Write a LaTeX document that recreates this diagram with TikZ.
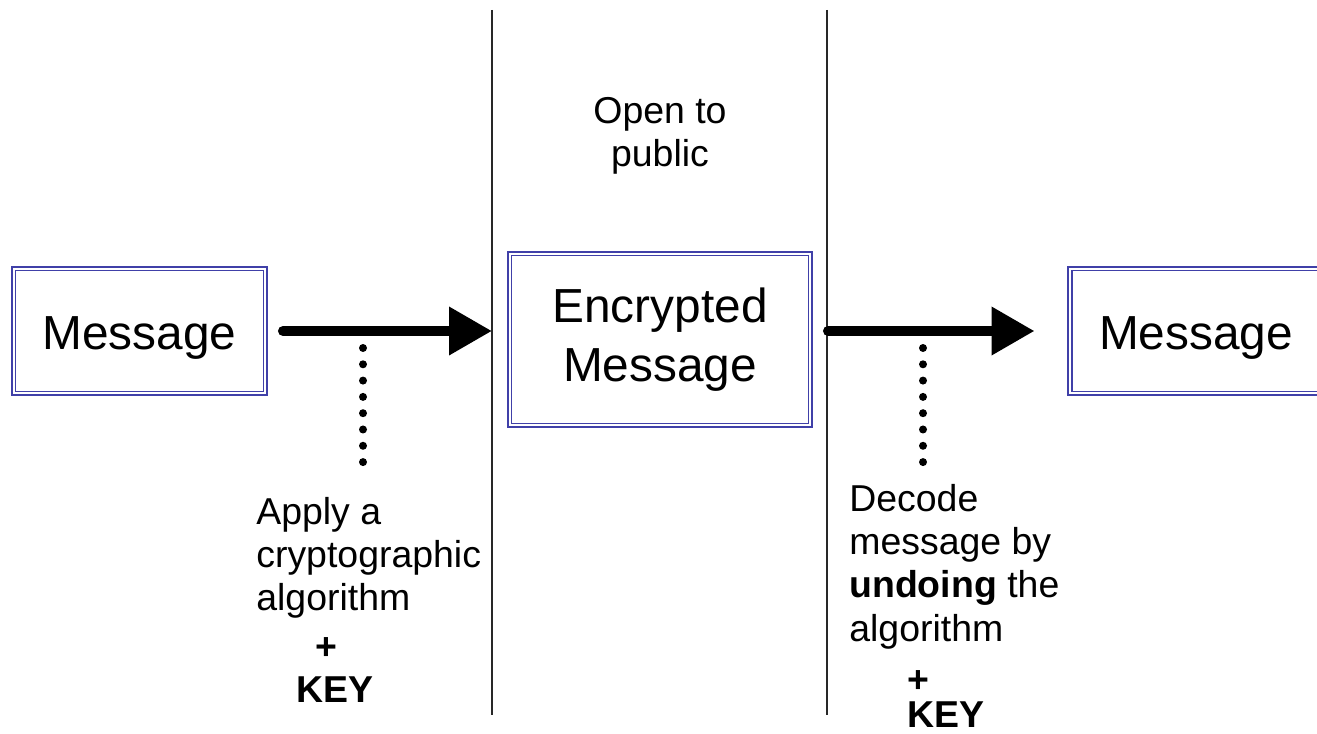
\documentclass[tikz,border=0pt]{standalone}
\usepackage{fontspec}
\setmainfont{Liberation Sans}
\usetikzlibrary{arrows.meta}

\definecolor{boxblue}{RGB}{64,64,168}
\definecolor{rulegray}{RGB}{40,40,40}

\tikzset{
	msgbox/.style={draw=boxblue, line width=0.032cm, double=white, double distance=0.04cm,
		inner sep=0pt, outer sep=0pt, align=center},
	bigtext/.style={font=\fontsize{27.2pt}{33.6pt}\selectfont},
	smalltext/.style={font=\fontsize{21.3pt}{24.6pt}\selectfont, inner sep=0pt},
	boldtext/.style={font=\bfseries\fontsize{21.3pt}{24.6pt}\selectfont, inner sep=0pt},
	flow/.style={line width=0.2cm, line cap=round, -{Triangle[length=0.86cm, width=0.92cm]}},
	dotline/.style={line width=0.16cm, line cap=round, dash pattern=on 0pt off 0.326cm},
	divider/.style={rulegray, line width=0.03cm}
}

\begin{document}
\begin{tikzpicture}[x=0.02cm, y=-0.02cm]
	\useasboundingbox (0,0) rectangle (1317,733);
	\clip (0,0) rectangle (1317,733);

	% the two dividers
	\coordinate (divA top) at (492,10);
	\coordinate (divA bot) at (492,715);
	\coordinate (divB top) at (827,10);
	\coordinate (divB bot) at (827,715);
	\draw[divider] (divA top) -- (divA bot);
	\draw[divider] (divB top) -- (divB bot);

	% boxes
	\node[msgbox, bigtext, minimum width=5.04cm, minimum height=2.5cm, text height=0.8cm, text depth=0.04cm]
		(plain) at (139.5,331) {Message};
	\node[msgbox, bigtext, minimum width=6.02cm, minimum height=3.44cm]
		(cipher) at (660,339.5) {Encrypted\\Message};
	\node[msgbox, bigtext, minimum width=5.04cm, minimum height=2.5cm, text height=0.8cm, text depth=0.04cm]
		(decoded) at (1196,331) {Message};

	\node[smalltext, align=center, anchor=north] (public) at (660,97) {Open to\\public};

	% arrows
	\draw[flow] ([xshift=0.35cm]plain.east) -- (plain.east -| divA top);
	\draw[flow] ([xshift=0.35cm]cipher.east |- plain.east) -- ([xshift=-0.71cm]decoded.west);

	% key lines
	\coordinate (encTop) at (363,348);
	\coordinate (encBot) at (363,462.5);
	\coordinate (decTop) at (923,348);
	\coordinate (decBot) at (923,462.5);
	\draw[dotline] (encTop) -- (encBot);
	\draw[dotline] (decTop) -- (decBot);

	% notes
	\node[smalltext, align=left, anchor=north west] (encNote) at (256,497)
		{Apply a\\cryptographic\\algorithm};
	\node[boldtext] (encPlus) at (326,649) {+};
	\node[boldtext, anchor=base] (encKey) at (335,702) {KEY};

	\node[smalltext, align=left, anchor=north west] (decNote) at (849,484)
		{Decode\\message by\\\textbf{undoing} the\\algorithm};
	\node[boldtext] (decPlus) at (918,682) {+};
	\node[boldtext, anchor=base] (decKey) at (946,727.5) {KEY};
\end{tikzpicture}
\end{document}
